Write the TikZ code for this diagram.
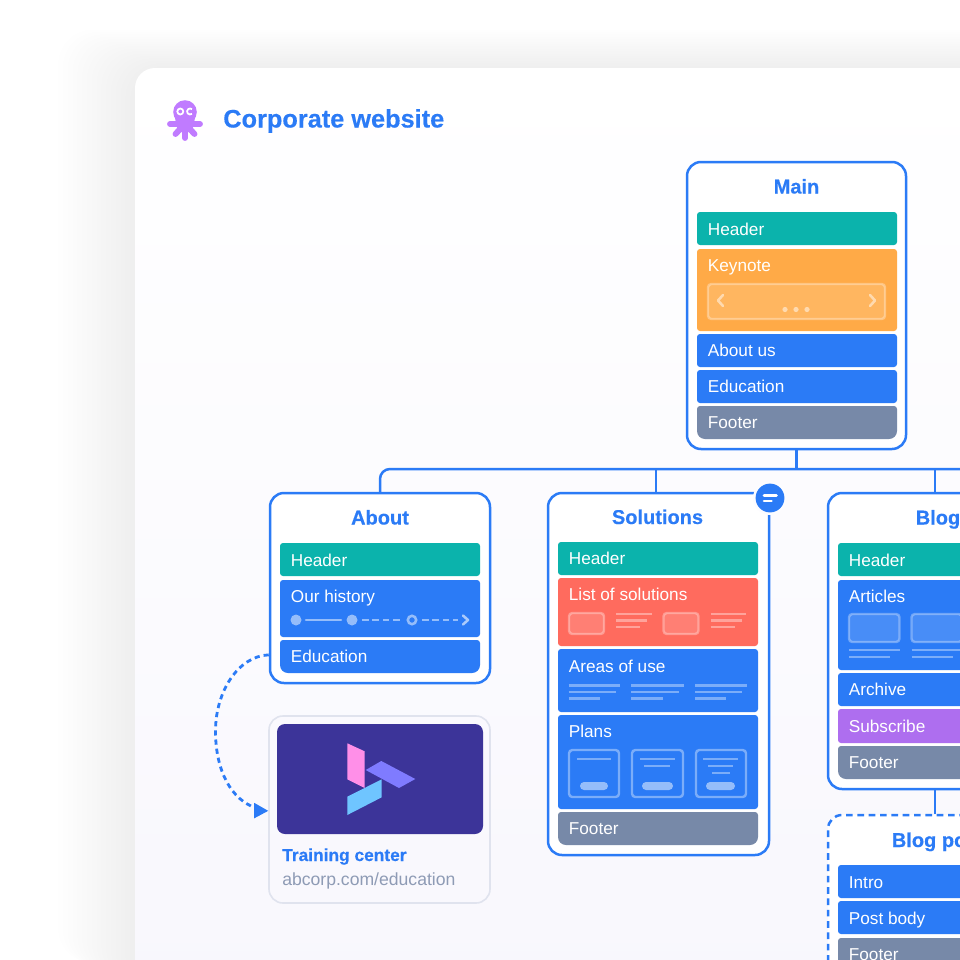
\documentclass[tikz,border=0pt]{standalone}
\usepackage{fontspec}
\setmainfont{Liberation Sans}
\newfontfamily\heavy[FakeBold=0.35]{Liberation Sans Bold}
\usetikzlibrary{fit,arrows.meta,positioning}
\definecolor{blu}{HTML}{2B7BF6}
\definecolor{teal2}{HTML}{0BB3AC}
\definecolor{orng}{HTML}{FFAA47}
\definecolor{slate}{HTML}{7789A8}
\definecolor{coral}{HTML}{FF6B5E}
\definecolor{purp}{HTML}{AE6EEF}
\definecolor{octo}{HTML}{C07BFF}
\definecolor{indigo}{HTML}{3C3499}
\definecolor{greytxt}{HTML}{8E9BB5}
\definecolor{cardline}{HTML}{E0E3EE}
\definecolor{lavend}{HTML}{F8F7FD}
\definecolor{shadowc}{HTML}{3A4660}
\definecolor{lgpink}{HTML}{FF8FE8}
\definecolor{lgviolet}{HTML}{7F7BFF}
\definecolor{lgsky}{HTML}{6FC5FF}
\tikzset{
  x=0.75pt,y=-0.75pt,
  cardbox/.style={draw=blu,line width=1.875pt,fill=white,rounded corners=10.5pt,inner sep=0pt},
  dashcard/.style={draw=blu,line width=1.875pt,dash pattern=on 5pt off 3.5pt,fill=white,rounded corners=10.5pt,inner sep=0pt},
  linkcard/.style={draw=cardline,line width=1.2pt,rounded corners=10.5pt,inner sep=0pt},
  barbox/.style={rounded corners=2.25pt,inner sep=0pt,draw=none},
  cardtitle/.style={text=blu,font=\heavy\fontsize{15}{18}\selectfont,anchor=base,inner sep=0pt},
  barlabel/.style={text=white,font=\fontsize{12.9}{15}\selectfont,anchor=base west,inner sep=0pt},
  conn/.style={draw=blu,line width=1.875pt},
  softline/.style={draw=white,draw opacity=.38,line width=1.8pt},
  softbox/.style={draw=white,draw opacity=.32,fill=white,fill opacity=.14,line width=1.8pt,rounded corners=2.5pt},
  softpill/.style={fill=white,fill opacity=.5,rounded corners=3pt},
}
% name x1 y1 x2 y2 colour baseline text
\newcommand{\barnode}[8]{%
  \node[barbox,fill=#6,fit={(#2,#3)(#4,#5)}] (#1) {};
  \node[barlabel] (#1t) at ({#2+10.6},{#7+0.7}) {#8};}
% bar with larger lower corners
\newcommand{\lowbar}[8]{%
  \fill[#6,rounded corners=2.25pt] (#2,#3) -- (#4,#3) [rounded corners=6pt] -- (#4,#5) -- (#2,#5) [rounded corners=2.25pt] -- cycle;
  \node[barlabel] (#1t) at ({#2+10.6},{#7+0.7}) {#8};}
\begin{document}
\begin{tikzpicture}
\useasboundingbox (0,0) rectangle (960,960);
\clip (0,0) rectangle (960,960);
\fill[white] (0,0) rectangle (960,960);
% soft shadow of the sheet
\foreach \i in {1,...,16}{
  \fill[shadowc,opacity=.003,rounded corners=26pt] ({135-\i*4.8},{68-\i*2.4}) rectangle (1100,{960-\i*2+35});
}
\shade[top color=white,middle color=white,bottom color=lavend,rounded corners=15pt] (135,68) rectangle (1100,1010);
% heading
\fill[octo] (185,112) circle[radius=11.8];
\fill[octo] (175,118) -- (195,118) -- (192,132) -- (178,132) -- cycle;
\begin{scope}[octo,line cap=round,line width=4.4pt]
  \draw (185,124) -- (170,124);
  \draw (185,124) -- (200,124);
  \draw (183,126) -- (175.5,134);
  \draw (187,126) -- (194.5,134);
  \draw (185,126) -- (185,138);
\end{scope}
\draw[white,line width=1.3pt] (180.3,111.5) circle[radius=3];
\draw[white,line width=1.3pt] (192,113.8) arc[start angle=50,end angle=310,radius=3];
\node[text=blu,font=\heavy\fontsize{19}{22}\selectfont,anchor=base west,inner sep=0pt] (heading) at (223,127.5) {Corporate website};
% named frames
\node[cardbox,fit={(687,162)(906,449)}] (main) {};
\node[cardbox,fit={(270,493)(490,683)}] (about) {};
\node[cardbox,fit={(548,493)(769,855)}] (solutions) {};
\node[cardbox,fit={(828,493)(1048,789)}] (blog) {};
\node[dashcard,fit={(828,815)(1048,1100)}] (post) {};
\node[linkcard,fit={(269,716)(490,903)}] (train) {};
% connectors
\coordinate (busR) at (1000,469);
\coordinate (dropS) at (656,469);
\coordinate (dropB) at (935,469);
\draw[conn] (main.south) -- (main.south |- busR);
\draw[conn,rounded corners=7.5pt] (about.north) -- (about.north |- busR) -- (busR);
\draw[conn] (dropS) -- (dropS |- solutions.north);
\draw[conn] (dropB) -- (dropB |- blog.north);
\draw[conn] (dropB |- blog.south) -- (dropB |- post.north);
\coordinate (linkEnd) at (256,808);
\draw[conn,line width=2.1pt,dash pattern=on 3.9pt off 3pt]
  (about.211) .. controls (238,656) and (215.5,692) .. (215.5,731) .. controls (215.5,772) and (232,800) .. (linkEnd);
\fill[blu] ([yshift=-1pt]train.west) -- ++(-14,-8) -- ++(0,15.5) -- cycle;
% Main
\node[cardtitle] (mainT) at (796.5,193.5) {Main};
\barnode{mHead}{697}{212}{897}{245}{teal2}{234.5}{Header}
\barnode{mKey}{697}{249}{897}{331}{orng}{270.5}{Keynote}
\node[softbox,inner sep=0pt,fit={(708,284)(885,319)}] (mSlide) {};
\draw[softline,line cap=round,line join=round,draw opacity=.5,line width=1.9pt] (723,295) -- (718,300.5) -- (723,306);
\draw[softline,line cap=round,line join=round,draw opacity=.5,line width=1.9pt] (870,295) -- (875,300.5) -- (870,306);
\foreach \cx in {785,796,807}{\fill[white,opacity=.5] (\cx,309.5) circle[radius=2.6];}
\barnode{mAbout}{697}{334}{897}{367}{blu}{355.5}{About us}
\barnode{mEdu}{697}{370}{897}{403}{blu}{391.5}{Education}
\lowbar{mFoot}{697}{406}{897}{439}{slate}{427.5}{Footer}
% About
\node[cardtitle] (aboutT) at (380,524.5) {About};
\barnode{aHead}{280}{543}{480}{576}{teal2}{565.5}{Header}
\barnode{aHist}{280}{580}{480}{637}{blu}{601.5}{Our history}
\fill[white,opacity=.5] (296,620) circle[radius=5.5];
\fill[white,opacity=.5] (352,620) circle[radius=5.5];
\draw[white,opacity=.5,line width=1.9pt] (412,620) circle[radius=4.2];
\draw[softline,draw opacity=.5,line cap=round,line width=1.9pt] (306,620) -- (341,620);
\draw[softline,draw opacity=.5,line width=1.9pt,dash pattern=on 5pt off 2.8pt] (362,620) -- (401,620);
\draw[softline,draw opacity=.5,line width=1.9pt,dash pattern=on 5pt off 2.8pt] (422,620) -- (458,620);
\draw[softline,draw opacity=.6,line cap=round,line join=round,line width=1.9pt] (463,615.5) -- (468,620) -- (463,624.5);
\lowbar{aEdu}{280}{640}{480}{673}{blu}{661.5}{Education}
% Training
\fill[indigo,rounded corners=6pt] (277,724) rectangle (483,834);
\fill[lgpink] (347.3,743.3) -- (364.7,751.3) -- (364.7,788) -- (347.3,779.3) -- cycle;
\fill[lgviolet] (365.7,770) -- (381.3,761) -- (415.3,779) -- (399,788) -- cycle;
\fill[lgsky] (347.3,796.7) -- (381.7,779.3) -- (381.7,797.3) -- (347.3,815) -- cycle;
\node[text=blu,font=\heavy\fontsize{13}{15}\selectfont,anchor=base west,inner sep=0pt] (trainT) at (282,861) {Training center};
\node[text=greytxt,font=\fontsize{13.2}{15}\selectfont,anchor=base west,inner sep=0pt] (trainU) at (282,885.5) {abcorp.com/education};
% Solutions
\node[cardtitle] (solT) at (657.5,524) {Solutions};
\barnode{sHead}{558}{542}{758}{575}{teal2}{563.3}{Header}
\barnode{sList}{558}{578}{758}{646}{coral}{599.3}{List of solutions}
\node[softbox,inner sep=0pt,fit={(569,613)(604,634)}] (sListA) {};
\node[softbox,inner sep=0pt,fit={(663.5,613)(698.5,634)}] (sListB) {};
\draw[softline] (616,614) -- (652,614) (616,620.5) -- (647,620.5) (616,627) -- (640,627);
\draw[softline] (710.5,614) -- (746,614) (710.5,620.5) -- (742,620.5) (710.5,627) -- (735,627);
\barnode{sArea}{558}{649}{758}{712}{blu}{671.3}{Areas of use}
\draw[softline] (568.5,685.5) -- (620,685.5) (568.5,692) -- (615.5,692) (568.5,698.5) -- (600,698.5);
\draw[softline] (631,685.5) -- (684,685.5) (631,692) -- (679,692) (631,698.5) -- (663,698.5);
\draw[softline] (695,685.5) -- (746.5,685.5) (695,692) -- (742,692) (695,698.5) -- (725.5,698.5);
\barnode{sPlan}{558}{715}{758}{809}{blu}{736.3}{Plans}
\foreach \xa/\xb in {569/619,632/683,696/746}{
  \draw[draw=white,draw opacity=.38,line width=1.8pt,rounded corners=2.5pt] (\xa,750) rectangle (\xb,797);
}
\draw[softline] (577,759) -- (611,759);
\draw[softline] (640,759) -- (675,759) (644,766) -- (670,766);
\draw[softline] (703,759) -- (738,759) (708,766) -- (733,766) (712,773) -- (730,773);
\fill[softpill] (580,782) rectangle (608,790);
\fill[softpill] (642,782) rectangle (673,790);
\fill[softpill] (706,782) rectangle (735,790);
\lowbar{sFoot}{558}{812}{758}{845}{slate}{833.8}{Footer}
% badge
\fill[white!99!blue] (770,498) circle[radius=17];
\node[circle,fill=blu,minimum size=21.6pt,inner sep=0pt] (badge) at (770,498) {};
\draw[white,line width=1.9pt,line cap=round] (764,495.7) -- (776.5,495.7);
\draw[white,line width=1.9pt,line cap=round] (764,501) -- (771.5,501);
% Blog
\node[cardtitle] (blogT) at (938,524.5) {Blog};
\barnode{bHead}{838}{543}{1038}{576}{teal2}{565.5}{Header}
\barnode{bArt}{838}{580}{1038}{670}{blu}{601.5}{Articles}
\node[softbox,inner sep=0pt,fit={(849,614)(899.5,642)}] (bArtA) {};
\node[softbox,inner sep=0pt,fit={(911.5,614)(962,642)}] (bArtB) {};
\draw[softline] (849,650) -- (899.5,650) (849,657) -- (890,657);
\draw[softline] (911.5,650) -- (962,650) (911.5,657) -- (953,657);
\barnode{bArch}{838}{673}{1038}{706}{blu}{694.3}{Archive}
\barnode{bSub}{838}{709}{1038}{743}{purp}{731.5}{Subscribe}
\lowbar{bFoot}{838}{746}{1038}{779}{slate}{767.5}{Footer}
% Blog post
\node[cardtitle] (postT) at (938,847) {Blog post};
\barnode{pIntro}{838}{865}{1038}{898}{blu}{887.5}{Intro}
\barnode{pBody}{838}{901}{1038}{934}{blu}{923.5}{Post body}
\lowbar{pFoot}{838}{938}{1038}{971}{slate}{959.5}{Footer}
\end{tikzpicture}
\end{document}
